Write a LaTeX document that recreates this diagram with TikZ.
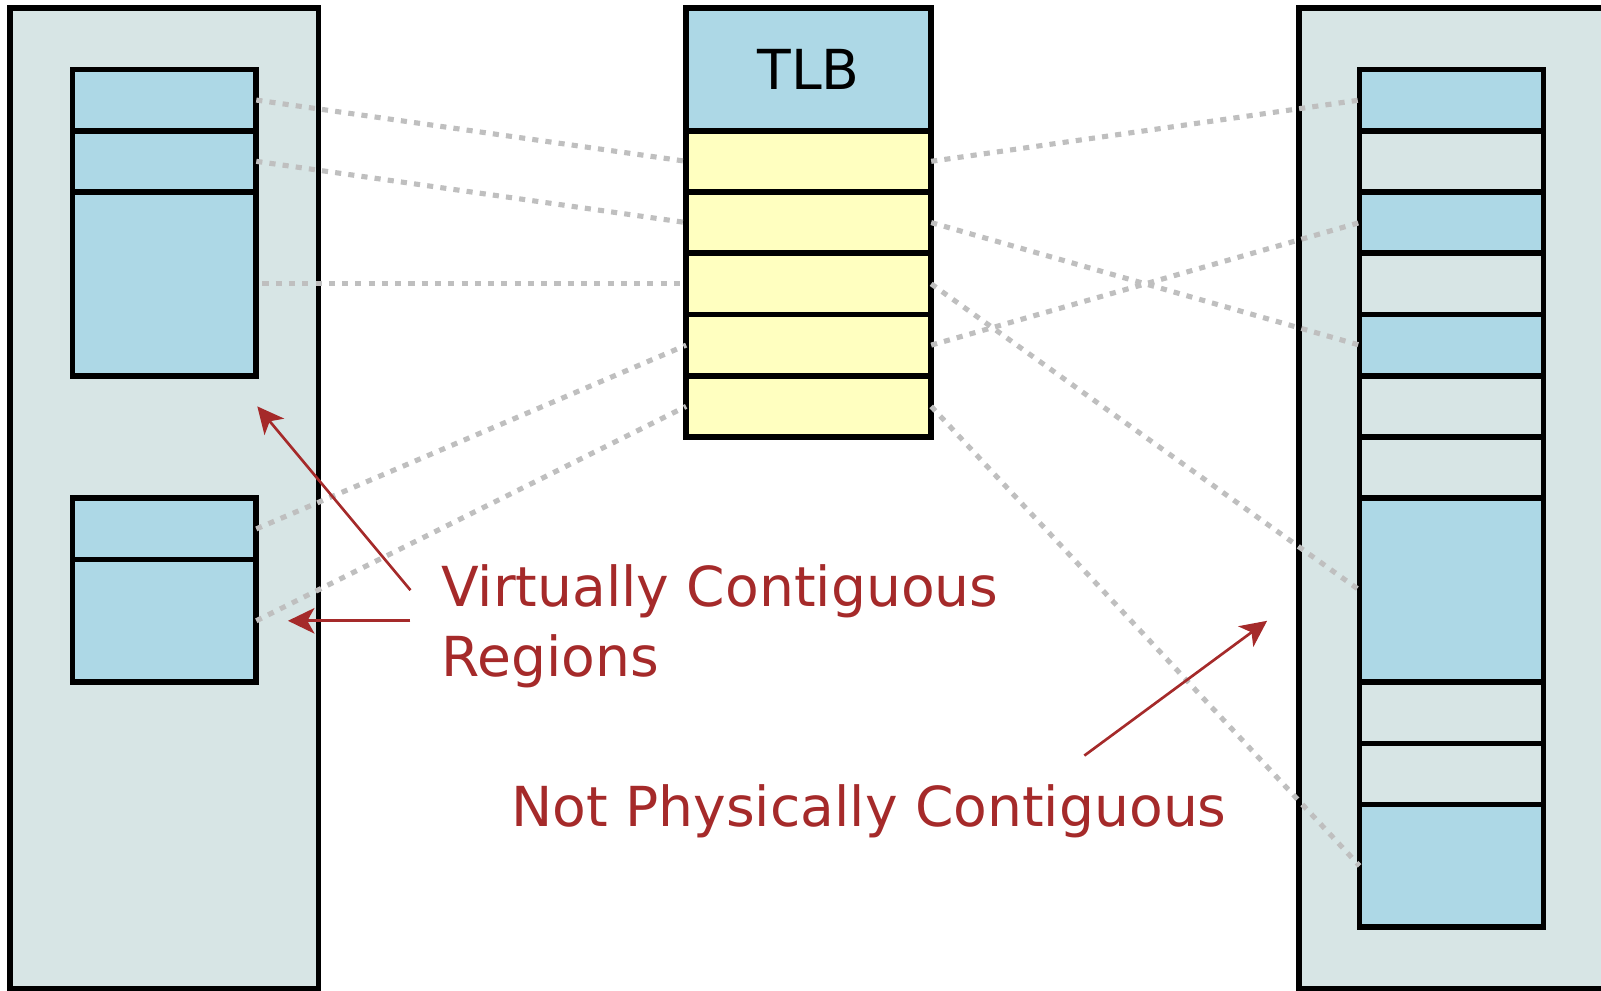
\documentclass[tikz,border=0pt]{standalone}
\usepackage{fontspec}
\setmainfont{DejaVu Sans}
\usetikzlibrary{arrows.meta}
\definecolor{outerfill}{RGB}{215,229,229}
\definecolor{cellblue}{RGB}{173,216,230}
\definecolor{cellyellow}{RGB}{255,255,192}
\definecolor{dotgray}{RGB}{191,191,191}
\definecolor{labelred}{RGB}{165,42,42}
\begin{document}
\begin{tikzpicture}[x=1pt,y=-1pt,
  box/.style={rectangle, draw=black, line width=5.5pt, inner sep=0pt, outer sep=0pt},
  outerbox/.style={box, fill=outerfill},
  bluecell/.style={box, fill=cellblue, minimum width=180pt},
  graycell/.style={box, fill=outerfill, minimum width=180pt},
  yelcell/.style={box, fill=cellyellow, minimum width=240pt, minimum height=60pt},
  dotline/.style={draw=dotgray, line width=5pt, dash pattern=on 6pt off 7pt},
  redarrow/.style={draw=labelred, line width=2.6pt, -{Stealth[length=26pt,width=25pt,inset=7pt]}},
  redtext/.style={text=labelred, inner sep=0pt, font=\fontsize{54}{68.5}\selectfont}
]
\useasboundingbox (0,0) rectangle (1568,969.6);
% outer memory boxes
\node[outerbox, minimum width=302pt, minimum height=960pt] (vmem) at (161,488) {};
\node[outerbox, minimum width=380pt, minimum height=960pt] (pmem) at (1462,488) {};
% virtual regions
\node[bluecell, minimum height=60pt] (l1) at (161,98) {};
\node[bluecell, minimum height=60pt] (l2) at (161,158) {};
\node[bluecell, minimum height=180pt] (l3) at (161,278) {};
\node[bluecell, minimum height=60pt] (l4) at (161,518) {};
\node[bluecell, minimum height=120pt] (l5) at (161,608) {};
% TLB
\node[box, fill=cellblue, minimum width=240pt, minimum height=120pt, font=\fontsize{54}{65}\selectfont] (t0) at (792,68) {TLB};
\node[yelcell] (t1) at (792,158) {};
\node[yelcell] (t2) at (792,218) {};
\node[yelcell] (t3) at (792,278) {};
\node[yelcell] (t4) at (792,338) {};
\node[yelcell] (t5) at (792,398) {};
% physical frames
\node[bluecell, minimum height=60pt] (r1) at (1421.5,98) {};
\node[graycell, minimum height=60pt] (r2) at (1421.5,158) {};
\node[bluecell, minimum height=60pt] (r3) at (1421.5,218) {};
\node[graycell, minimum height=60pt] (r4) at (1421.5,278) {};
\node[bluecell, minimum height=60pt] (r5) at (1421.5,338) {};
\node[graycell, minimum height=60pt] (r6) at (1421.5,398) {};
\node[graycell, minimum height=60pt] (r7) at (1421.5,458) {};
\node[bluecell, minimum height=180pt] (r8) at (1421.5,578) {};
\node[graycell, minimum height=60pt] (r9) at (1421.5,698) {};
\node[graycell, minimum height=60pt] (r10) at (1421.5,758) {};
\node[bluecell, minimum height=120pt] (r11) at (1421.5,848) {};
% dotted mappings
\draw[dotline] (l1.east) -- (t1.west);
\draw[dotline] (l2.east) -- (t2.west);
\draw[dotline] ([xshift=6pt]l3.east) -- (t3.west);
\draw[dotline] (l4.east) -- (t4.west);
\draw[dotline] (l5.east) -- (t5.west);
\draw[dotline] (t1.east) -- (r1.west);
\draw[dotline] (t2.east) -- (r5.west);
\draw[dotline] (t3.east) -- (r8.west);
\draw[dotline] (t4.east) -- (r3.west);
\draw[dotline] (t5.east) -- (r11.west);
% labels
\node[redtext, anchor=west, align=left] (vlabel) at (432,613.5) {Virtually Contiguous\\Regions};
\node[redtext, anchor=base west] (plabel) at (500.5,809) {Not Physically Contiguous};
% red arrows
\coordinate (a1s) at (402,578);
\coordinate (a1e) at (252,398);
\coordinate (a2s) at (402,608);
\coordinate (a2e) at (282,608);
\coordinate (a3s) at (1062,740);
\coordinate (a3e) at (1241,608);
\draw[redarrow] (a1s) -- (a1e);
\draw[redarrow] (a2s) -- (a2e);
\draw[redarrow] (a3s) -- (a3e);
\end{tikzpicture}
\end{document}
